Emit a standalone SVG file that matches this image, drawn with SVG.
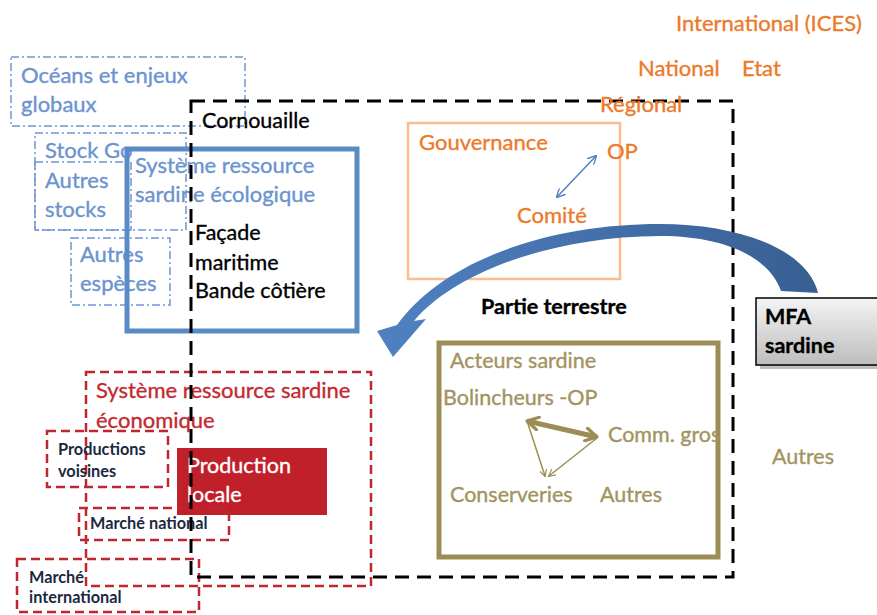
<svg xmlns="http://www.w3.org/2000/svg" width="877" height="615" viewBox="0 0 877 615">
<defs>
<style>
text{font-family:Lato,"Liberation Sans",sans-serif;stroke-width:0.35;}
.or{fill:#ec7a2a;stroke:#ec7a2a;font-size:22px;}
.bl{fill:#6b93cf;stroke:#6b93cf;font-size:22px;}
.bk{fill:#000;stroke:#000;font-size:21.5px;}
.rd{fill:#c22a30;stroke:#c22a30;font-size:22px;}
.ol{fill:#a29360;stroke:#a29360;font-size:21.5px;}
.sm{fill:#1b2940;font-size:16.3px;font-weight:bold;stroke:none;}
.dd{fill:none;stroke:#6f97d4;stroke-width:1.5;stroke-dasharray:8 3 2 3;}
.rdash{fill:none;stroke:#c0262d;stroke-width:2.5;stroke-dasharray:9 5;}
</style>
<clipPath id="clipGros"><rect x="0" y="0" width="721" height="615"/></clipPath>
<linearGradient id="arrowGrad" x1="0" y1="0" x2="1" y2="0">
<stop offset="0" stop-color="#4f81c2"/>
<stop offset="1" stop-color="#385f92"/>
</linearGradient>
<linearGradient id="mfaGrad" x1="0" y1="0" x2="0" y2="1">
<stop offset="0" stop-color="#f4f4f4"/>
<stop offset="1" stop-color="#bdbdbd"/>
</linearGradient>
<marker id="bArrow" viewBox="0 0 10 10" refX="9" refY="5" markerWidth="6" markerHeight="6" orient="auto-start-reverse">
<path d="M0,0 L10,5 L0,10" fill="none" stroke="#4f81bd" stroke-width="1.5"/>
</marker>
<marker id="oArrow" viewBox="0 0 10 10" refX="9" refY="5" markerWidth="5" markerHeight="5" orient="auto-start-reverse">
<path d="M0,0 L10,5 L0,10" fill="none" stroke="#9b8d55" stroke-width="1.5"/>
</marker>
<marker id="oThick" viewBox="0 0 10 10" refX="8" refY="5" markerWidth="3.2" markerHeight="3.2" orient="auto-start-reverse">
<path d="M1,1 L8,5 L1,9" fill="none" stroke="#9b8d55" stroke-width="2" stroke-linecap="round" stroke-linejoin="round"/>
</marker>
</defs>
<rect width="877" height="615" fill="#fff"/>

<g id="levels">
<text class="or" x="676" y="31">International (ICES)</text>
<text class="or" x="638" y="76">National</text>
<text class="or" x="742" y="76">Etat</text>
</g>

<g id="oceans">
<rect class="dd" x="11" y="57" width="234" height="69"/>
<text class="bl" x="21" y="83">Océans et enjeux</text>
<text class="bl" x="21" y="112">globaux</text>
</g>

<g id="stocks">
<rect class="dd" x="35" y="133" width="151" height="97"/>
<rect class="dd" x="35" y="162" width="96" height="68"/>
<text class="bl" x="45" y="158">Stock Go</text>
<text class="bl" x="45" y="188">Autres</text>
<text class="bl" x="45" y="217">stocks</text>
</g>

<g id="especes">
<rect class="dd" x="71" y="238" width="99" height="67"/>
<text class="bl" x="80" y="262">Autres</text>
<text class="bl" x="80" y="291">espèces</text>
</g>

<g id="systeme-ecologique">
<rect x="127" y="149" width="230" height="182" fill="none" stroke="#5b8bc7" stroke-width="5"/>
<text class="bl" x="135" y="173">Système ressource</text>
<text class="bl" x="135" y="202">sardine écologique</text>
<text class="bk" x="195" y="240">Façade</text>
<text class="bk" x="195" y="270">maritime</text>
<text class="bk" x="195" y="298">Bande côtière</text>
</g>

<g id="gouvernance">
<rect x="408" y="123" width="212" height="156" fill="none" stroke="#fbbd8e" stroke-width="2.5"/>
<text class="or" x="419" y="150">Gouvernance</text>
<text class="or" x="607" y="159">OP</text>
<text class="or" x="517" y="223">Comité</text>
</g>

<g id="systeme-economique">
<rect class="rdash" x="86" y="372" width="285" height="214"/>
<text class="rd" x="96" y="398">Système ressource sardine</text>
<text class="rd" x="96" y="428">économique</text>
</g>

<g id="productions-voisines">
<rect class="rdash" x="47" y="431" width="121" height="56"/>
<text class="sm" x="58" y="455">Productions</text>
<text class="sm" x="58" y="477">voisines</text>
</g>

<g id="production-locale">
<rect x="177" y="448" width="150" height="67" fill="#c0202a"/>
<text x="187" y="473" fill="#fff" stroke="#fff" font-size="21.5">Production</text>
<text x="187" y="502" fill="#fff" stroke="#fff" font-size="21.5">locale</text>
</g>

<g id="marche-national">
<rect class="rdash" x="79" y="508" width="150" height="32"/>
<text class="sm" x="90" y="529">Marché national</text>
</g>

<g id="marche-international">
<rect class="rdash" x="17" y="559" width="182" height="53"/>
<text class="sm" x="29" y="583">Marché</text>
<text class="sm" x="29" y="603">international</text>
</g>

<g id="acteurs">
<rect x="439" y="343" width="279" height="214" fill="none" stroke="#9b8d55" stroke-width="5"/>
<text class="ol" x="450" y="368">Acteurs sardine</text>
<text class="ol" x="443" y="405">Bolincheurs -OP</text>
<text class="ol" x="608" y="442" clip-path="url(#clipGros)">Comm. gros</text>
<text class="ol" x="450" y="502">Conserveries</text>
<text class="ol" x="600" y="502">Autres</text>
</g>

<g id="autres">
<text class="ol" x="772" y="464">Autres</text>
</g>

<g id="cornouaille">
<rect x="191" y="101" width="542" height="476" fill="none" stroke="#000" stroke-width="3" stroke-dasharray="14 8"/>
<text class="bk" x="202" y="128">Cornouaille</text>
<text class="bk" x="481" y="314" font-weight="bold" font-size="20.5">Partie terrestre</text>
</g>

<g id="regional">
<text class="or" x="600" y="112">Régional</text>
</g>

<g id="mfa">
<rect x="760" y="301" width="120" height="68" fill="#7f7f7f" opacity="0.5"/>
<rect x="756" y="298" width="124" height="67" fill="url(#mfaGrad)" stroke="#000" stroke-width="1.5"/>
<text class="bk" x="765" y="324" font-weight="bold">MFA</text>
<text class="bk" x="765" y="353" font-weight="bold">sardine</text>
</g>

<g id="connectors">
<line x1="557" y1="197" x2="596" y2="156" stroke="#4f81bd" stroke-width="1.5" marker-start="url(#bArrow)" marker-end="url(#bArrow)"/>
<path d="M818,293 C808,250 740,224 660,224 C540,224 440,265 397,325 L377,331 L393,357 L426,319 L414,321 C450,278 540,237 660,236 C730,236 770,260 781,291 Z" fill="url(#arrowGrad)"/>
<line x1="527" y1="421" x2="597" y2="437" stroke="#9b8d55" stroke-width="5" marker-start="url(#oThick)" marker-end="url(#oThick)"/>
<line x1="528" y1="424" x2="545" y2="476" stroke="#9b8d55" stroke-width="1.5" marker-end="url(#oArrow)"/>
<line x1="597" y1="438" x2="549" y2="476" stroke="#9b8d55" stroke-width="1.5" marker-end="url(#oArrow)"/>
</g>
</svg>
